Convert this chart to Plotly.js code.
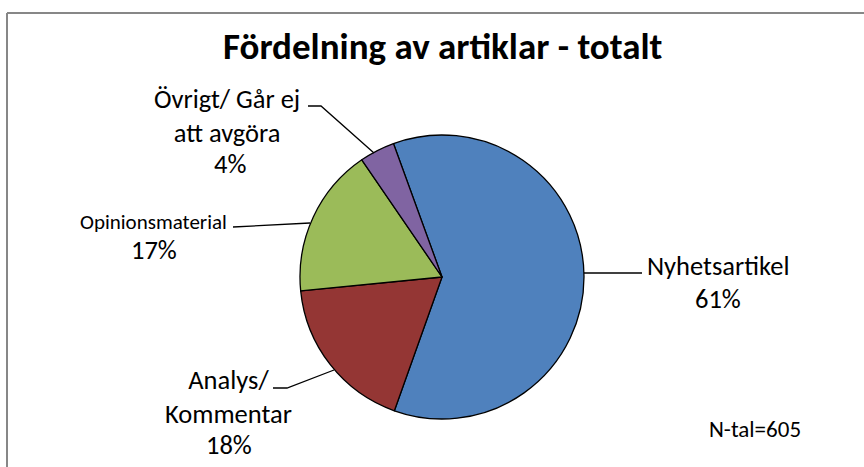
<!DOCTYPE html>
<html>
<head>
<meta charset="utf-8">
<script src="https://cdn.plot.ly/plotly-3.0.1.min.js"></script>
<style>html,body{margin:0;padding:0;background:#fff;}#chart{width:864px;height:467px;}</style>
</head>
<body>
<div id="chart"></div>
<script>
// ---- data ----
var categories = ["Nyhetsartikel", "Analys/<br>Kommentar", "Opinionsmaterial", "Övrigt/ Går ej<br>att avgöra"];
var percentValues = [61, 18, 17, 4];
var sliceColors = ["#4F81BD", "#943634", "#9BBB59", "#8064A2"];
var chartTitle = "Fördelning av artiklar - totalt";
var noteText = "N-tal=605";

// ---- layout helpers (pixel positions of labels and leader lines) ----
var W = 864, H = 467;
function px(x) { return x / W; }
function py(y) { return 1 - y / H; }
var FONT = "Carlito, Lato, 'Open Sans', sans-serif";

var labelPos = [
  {nx: 718, ny: 266, nsize: 26.5, px: 718, py: 299},
  {nx: 228, ny: 397, nsize: 26.5, px: 229, py: 445},
  {nx: 153, ny: 222, nsize: 21, px: 154, py: 250},
  {nx: 227, ny: 116, nsize: 26.5, px: 230, py: 164}
];
var leaders = [
  [[584, 273], [642, 273]],
  [[273, 388], [287, 388], [334, 370]],
  [[233, 227], [310, 223]],
  [[308, 106], [321, 106], [374, 153]]
];

var annotations = [];
categories.forEach(function (c, i) {
  var p = labelPos[i];
  annotations.push({
    xref: "paper", yref: "paper", x: px(p.nx), y: py(p.ny),
    xanchor: "center", yanchor: "middle", showarrow: false,
    text: c, font: {family: FONT, size: p.nsize, color: "#000"}
  });
  annotations.push({
    xref: "paper", yref: "paper", x: px(p.px), y: py(p.py),
    xanchor: "center", yanchor: "middle", showarrow: false,
    text: percentValues[i] + "%", font: {family: FONT, size: 26.5, color: "#000"}
  });
});
annotations.push({
  xref: "paper", yref: "paper", x: px(755), y: py(429),
  xanchor: "center", yanchor: "middle", showarrow: false,
  text: noteText, font: {family: FONT, size: 23, color: "#000"}
});
annotations.push({
  xref: "paper", yref: "paper", x: px(443), y: py(47),
  xanchor: "center", yanchor: "middle", showarrow: false,
  text: "<b>" + chartTitle + "</b>", font: {family: FONT, size: 37, color: "#000"}
});

var shapes = leaders.map(function (pts) {
  var d = pts.map(function (p, k) { return (k ? "L" : "M") + px(p[0]) + "," + py(p[1]); }).join(" ");
  return {type: "path", xref: "paper", yref: "paper", path: d, line: {color: "#000", width: 1.3}};
});
// chart frame
shapes.push({type: "line", xref: "paper", yref: "paper", x0: px(7), x1: px(870), y0: py(13), y1: py(13), line: {color: "#878787", width: 2}});
shapes.push({type: "line", xref: "paper", yref: "paper", x0: px(7), x1: px(7), y0: py(13), y1: py(480), line: {color: "#878787", width: 2}});

var cx = 442, cy = 277, r = 142;
var trace = {
  type: "pie",
  labels: categories,
  values: percentValues,
  sort: false,
  direction: "clockwise",
  rotation: -20,
  textinfo: "none",
  hoverinfo: "label+percent",
  marker: {colors: sliceColors, line: {color: "#000", width: 1.3}},
  domain: {x: [px(cx - r), px(cx + r)], y: [py(cy + r), py(cy - r)]},
  showlegend: false
};

Plotly.newPlot("chart", [trace], {
  width: W, height: H,
  margin: {l: 0, r: 0, t: 0, b: 0},
  paper_bgcolor: "#fff",
  showlegend: false,
  annotations: annotations,
  shapes: shapes
}, {staticPlot: true});
</script>
</body>
</html>
